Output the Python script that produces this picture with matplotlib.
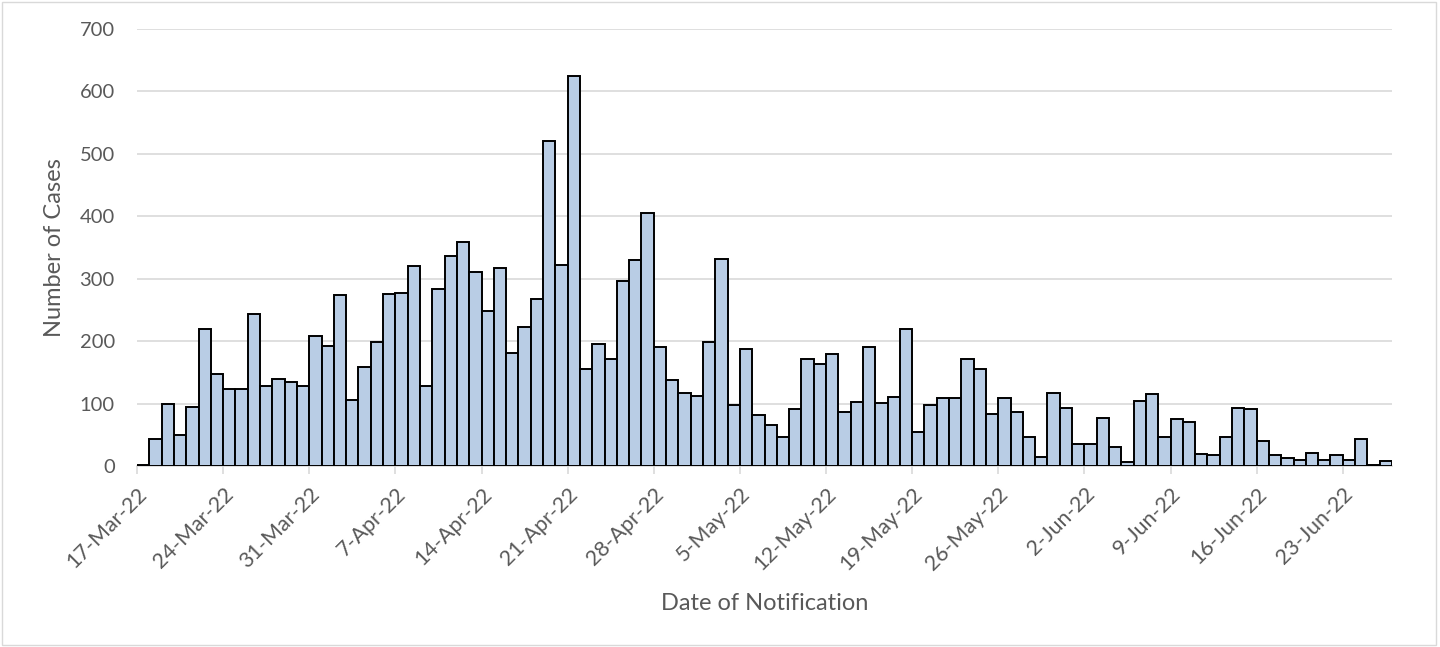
import numpy as np
import pandas as pd
import matplotlib
matplotlib.use('Agg')
import matplotlib.pyplot as plt
from matplotlib.patches import Rectangle

# Casos diarios desde el 17-Mar-22
start_date = '2022-03-17'
cases = [1, 43, 99, 50, 94, 220, 147, 124, 124, 244,
         128, 139, 135, 128, 208, 193, 274, 106, 158, 199,
         275, 277, 320, 128, 284, 337, 359, 310, 249, 317,
         181, 222, 268, 520, 322, 625, 156, 195, 172, 296,
         330, 406, 190, 138, 117, 112, 199, 331, 98, 188,
         82, 65, 46, 92, 171, 164, 179, 87, 102, 190,
         101, 110, 219, 54, 98, 109, 109, 171, 155, 83,
         109, 86, 47, 15, 117, 93, 36, 35, 77, 30,
         7, 104, 116, 47, 76, 71, 20, 18, 47, 93,
         91, 40, 18, 13, 9, 21, 10, 17, 9, 43,
         2, 8]
dates = pd.date_range(start_date, periods=len(cases), freq='D')
y_ticks = [0, 100, 200, 300, 400, 500, 600, 700]

plt.rcParams['font.family'] = ['Lato', 'DejaVu Sans']

fig = plt.figure(figsize=(14.4, 6.47), dpi=100)
ax = fig.add_axes([137 / 1440, 1 - 466 / 647, (1392 - 137) / 1440, (466 - 29) / 647])

x = np.arange(len(cases))
ax.bar(x, cases, width=1.0, align='edge', color='#b9cde5', edgecolor='black', linewidth=1.4, zorder=3)

ax.set_xlim(0, len(cases))
ax.set_ylim(0, 700)
ax.set_yticks(y_ticks)
ax.yaxis.grid(True, color='#d9d9d9', linewidth=1.2, zorder=0)

tick_pos = x[::7]
ax.set_xticks(tick_pos)
ax.set_xticklabels([f"{d.day}-{d.strftime('%b-%y')}" for d in dates[::7]],
                   rotation=45, ha='right', rotation_mode='anchor')

for s in ['top', 'right', 'left']:
    ax.spines[s].set_visible(False)
ax.spines['bottom'].set_color('#d9d9d9')
ax.spines['bottom'].set_linewidth(1.2)
ax.tick_params(axis='x', colors='#d9d9d9', length=6, width=1.2, labelcolor='#595959', labelsize=15.5, pad=7)
ax.tick_params(axis='y', length=0, labelcolor='#595959', labelsize=14.5, pad=16)

ax.set_xlabel('Date of Notification', color='#595959', fontsize=17)
ax.xaxis.set_label_coords((765 - 137) / 1255, (466 - 603) / 437)
ax.xaxis.label.set_va('center')
ax.set_ylabel('Number of Cases', color='#595959', fontsize=17)
ax.yaxis.set_label_coords((55 - 137) / 1255, 0.5)
ax.yaxis.label.set_va('center')

fig.patches.append(Rectangle((2 / 1440, 2 / 647), 1 - 6 / 1440, 1 - 4 / 647, transform=fig.transFigure,
                             fill=False, edgecolor='#d9d9d9', linewidth=1))

plt.savefig('out.png', dpi=100)
